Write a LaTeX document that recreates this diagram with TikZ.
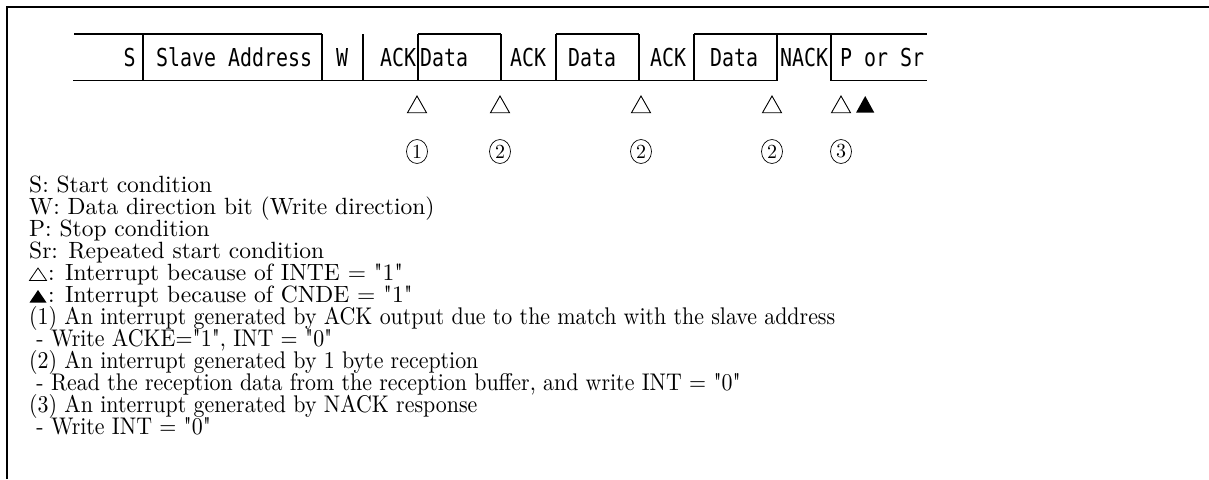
\documentclass[tikz,border=0pt]{standalone}
\usepackage{fontspec}
\usepackage{graphicx}
\usetikzlibrary{shapes.geometric}
\newfontfamily\pktfont{DejaVu Sans Mono}
\newfontfamily\legfont{lmroman10-regular}[Extension=.otf]
\newcommand\pk[1]{\scalebox{0.807}[1]{\pktfont #1}}
\newcommand\tall[1]{\scalebox{1}[1.1]{#1}}
\begin{document}
\begin{tikzpicture}[x=1pt,y=-1pt,
  frame/.style={line width=1.6pt},
  pkt/.style={line width=1.2pt},
  ptxt/.style={inner sep=0pt, anchor=base west, font=\fontsize{24.7}{26}\selectfont},
  leg/.style={inner sep=0pt, anchor=base west, font=\legfont\fontsize{23.5}{24}\selectfont},
  legb/.style={inner sep=0pt, anchor=base west, font=\legfont\fontsize{21.9}{24}\selectfont},
  wtri/.style={line width=0.9pt, fill=white},
  btri/.style={fill=black},
  cnum/.style={ellipse, draw, line width=0.7pt, minimum width=21pt, minimum height=24pt, inner sep=0pt, font=\legfont\fontsize{20}{20}\selectfont}]
\useasboundingbox (0,0) rectangle (1209,479);
% outer frame (partly cut)
\draw[frame] (7,479) -- (7,7) -- (1209,7);
% packet: top lines
\draw[pkt] (74,34) -- (322,34);
\draw[pkt] (418,34) -- (501,34);
\draw[pkt] (556,34) -- (639,34);
\draw[pkt] (694,34) -- (927,34);
% bottom lines
\draw[pkt] (73,80.7) -- (777,80.7);
\draw[pkt] (831,80.7) -- (927,80.7);
% separators
\foreach \x in {143,322,363,418,501,556,639,694,777,831}
  \draw[pkt] (\x,34) -- (\x,80.7);
% packet texts
\node[ptxt] (tS) at (123.5,66.7) {\pk{S}};
\node[ptxt] (tSA) at (156,66.7) {\pk{Slave Address}};
\node[ptxt] (tW) at (336,66.7) {\pk{W}};
\node[ptxt] (tA1) at (380,66.7) {\pk{ACK}};
\node[ptxt] (tD1) at (420,66.7) {\pk{Data}};
\node[ptxt] (tA2) at (510,66.7) {\pk{ACK}};
\node[ptxt] (tD2) at (568,66.7) {\pk{Data}};
\node[ptxt] (tA3) at (650,66.7) {\pk{ACK}};
\node[ptxt] (tD3) at (710,66.7) {\pk{Data}};
\node[ptxt] (tN) at (780,66.7) {\pk{NACK}};
\node[ptxt] (tP) at (840,66.7) {\pk{P or Sr}};
% interrupt triangles
\foreach \x in {417,500,641,772,841}
  \draw[wtri] (\x-9.5,112.7) -- (\x+9.5,112.7) -- (\x,96) -- cycle;
\fill[btri] (856,112.7) -- (874.3,112.7) -- (865.2,96) -- cycle;
% circled numbers
\node[cnum] (c1) at (417,151.5) {1};
\node[cnum] (c2a) at (500,151.5) {2};
\node[cnum] (c2b) at (641,151.5) {2};
\node[cnum] (c2c) at (772,151.5) {2};
\node[cnum] (c3) at (841,151.5) {3};
% legend
\node[leg] (l1) at (29,192.5) {S: Start condition};
\node[leg] (l2) at (29,214.5) {W: Data direction bit (Write direction)};
\node[leg] (l3) at (29,236.5) {P: Stop condition};
\node[leg] (l4) at (29,258.5) {Sr: Repeated start condition};
\draw[line width=0.8pt] (29.5,280.5) -- (46.5,280.5) -- (38,268) -- cycle;
\node[leg] (l5) at (48,280.5) {: Interrupt because of INTE = "1"};
\fill (29.5,302.5) -- (46.5,302.5) -- (38,290) -- cycle;
\node[leg] (l6) at (48,302.5) {: Interrupt because of CNDE = "1"};
\node[legb] (l7) at (29,324.5) {\tall{(1) An interrupt generated by ACK output due to the match with the slave address}};
\node[legb] (l8) at (29,346.5) {\tall{\ - Write ACKE="1", INT = "0"}};
\node[legb] (l9) at (29,368.5) {\tall{(2) An interrupt generated by 1 byte reception}};
\node[legb] (l10) at (29,390.5) {\tall{\ - Read the reception data from the reception buffer, and write INT = "0"}};
\node[legb] (l11) at (29,412.5) {\tall{(3) An interrupt generated by NACK response}};
\node[legb] (l12) at (29,434.5) {\tall{\ - Write INT = "0"}};
\end{tikzpicture}
\end{document}
